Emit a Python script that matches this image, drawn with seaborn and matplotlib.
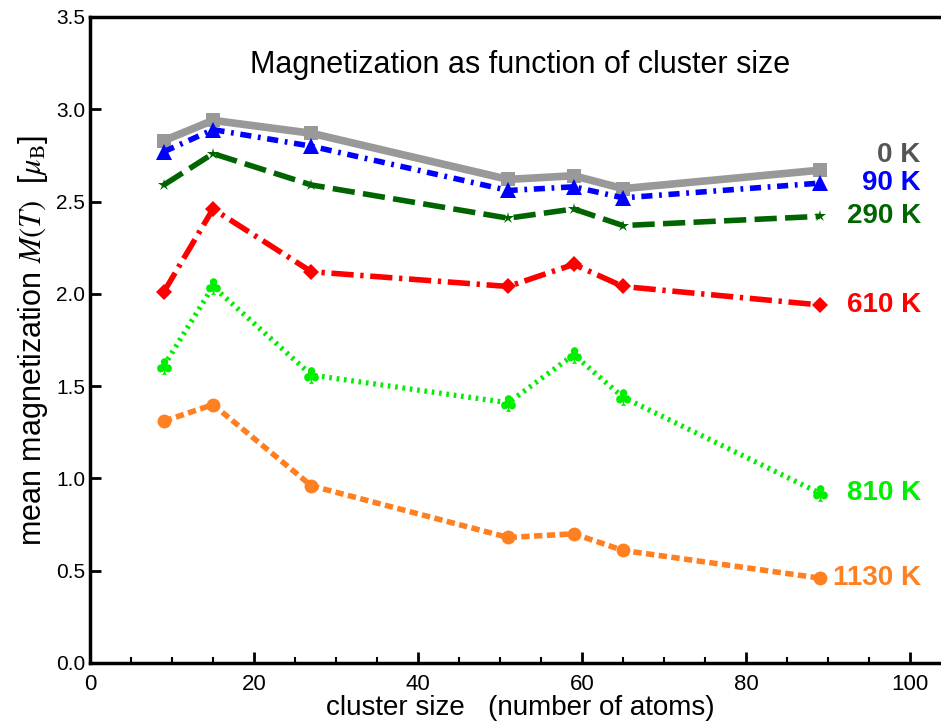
import matplotlib
matplotlib.use("Agg")
import matplotlib.pyplot as plt
import seaborn as sns
import pandas as pd

# cluster sizes (number of atoms)
cluster_size = [9, 15, 27, 51, 59, 65, 89]

# mean magnetization per temperature
m_0K = [2.83, 2.94, 2.87, 2.62, 2.64, 2.57, 2.67]
m_90K = [2.77, 2.89, 2.80, 2.56, 2.58, 2.52, 2.60]
m_290K = [2.59, 2.76, 2.59, 2.41, 2.46, 2.37, 2.42]
m_610K = [2.01, 2.46, 2.12, 2.04, 2.16, 2.04, 1.94]
m_810K = [1.61, 2.04, 1.56, 1.41, 1.67, 1.44, 0.92]
m_1130K = [1.31, 1.40, 0.96, 0.68, 0.70, 0.61, 0.46]

temp_labels = ["0 K", "90 K", "290 K", "610 K", "810 K", "1130 K"]

sns.set_style("ticks", {'axes.edgecolor': 'black', 'xtick.color': 'black',
                        'ytick.color': 'black', 'text.color': 'black',
                        'axes.labelcolor': 'black'})
plt.rcParams['font.family'] = ['Liberation Sans', 'DejaVu Sans']
plt.rcParams['mathtext.fontset'] = 'stix'

fig = plt.figure(figsize=(9.41, 7.27), dpi=100)
ax = fig.add_axes([90 / 941, 1 - 663 / 727, (951 - 90) / 941, (663 - 17) / 727])

series = [m_0K, m_90K, m_290K, m_610K, m_810K, m_1130K]
styles = [
    dict(color='#999999', lw=5.5, ls='-', marker='s', ms=10),
    dict(color='#0000ff', lw=4, ls=(0, (2.0, 1.2, 0.5, 1.2)), marker='^', ms=11),
    dict(color='#006400', lw=4, ls=(0, (4, 1.5)), marker='*', ms=9),
    dict(color='#ff0000', lw=4, ls=(0, (4, 1.2, 0.6, 1.2)), marker='D', ms=8),
    dict(color='#00ee00', lw=3.8, ls=(0, (0.5, 0.9)), marker=r'$\clubsuit$', ms=12),
    dict(color='#ff8020', lw=4, ls=(0, (1.5, 0.8)), marker='o', ms=10),
]
label_colors = ['#555555', '#0000ff', '#006400', '#ff0000', '#00ee00', '#ff8020']

for vals, st, lab, lc in zip(series, styles, temp_labels, label_colors):
    df = pd.DataFrame({'size': cluster_size, 'M': vals})
    sns.lineplot(data=df, x='size', y='M', ax=ax, color=st['color'],
                 linewidth=st['lw'], linestyle=st['ls'], marker=st['marker'],
                 markersize=st['ms'], markeredgewidth=0,
                 markerfacecolor=st['color'], label=lab, legend=False)
    # the 0 K label sits a little above its line end to clear the 90 K label
    dy = 0.08 if lab == "0 K" else 0.0
    ax.text(101.3, vals[-1] + dy, lab, color=lc,
            fontsize=20, fontweight='bold', ha='right', va='center')

ax.set_xlim(0, 105)
ax.set_ylim(0, 3.5)
ax.set_xticks([0, 20, 40, 60, 80, 100])
ax.set_xticks(range(0, 105, 5), minor=True)
ax.set_yticks([0, 0.5, 1.0, 1.5, 2.0, 2.5, 3.0, 3.5])
ax.set_yticklabels(['0.0', '0.5', '1.0', '1.5', '2.0', '2.5', '3.0', '3.5'])
ax.tick_params(which='major', direction='in', length=8, width=2, labelsize=15)
ax.tick_params(which='minor', direction='in', length=4, width=1.5)
ax.tick_params(axis='x', pad=8, labelsize=16)
for sp in ax.spines.values():
    sp.set_linewidth(2.5)
    sp.set_color('black')
    sp.set_visible(True)

ax.set_xlabel('cluster size   (number of atoms)', fontsize=20, labelpad=0)
ax.set_ylabel(r'mean magnetization $M(T)$  [$\mu_\mathrm{B}$]', fontsize=22, labelpad=4)
ax.text(0.5, 0.925, 'Magnetization as function of cluster size', transform=ax.transAxes,
        ha='center', va='center', fontsize=22)

fig.savefig('out.png', dpi=100)
